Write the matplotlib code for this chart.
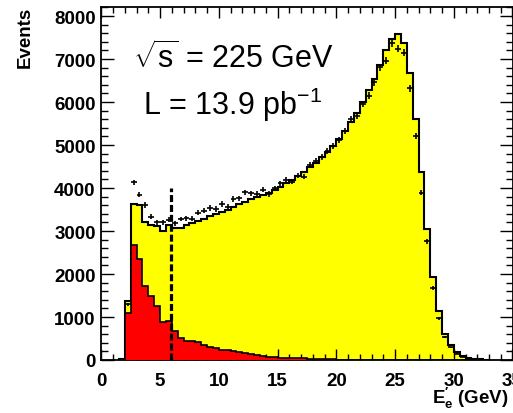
import numpy as np
import matplotlib
matplotlib.use("Agg")
import matplotlib.pyplot as plt
from matplotlib.ticker import MultipleLocator

plt.rcParams['font.family'] = ['Liberation Sans', 'DejaVu Sans']
plt.rcParams['mathtext.fontset'] = 'custom'
plt.rcParams['mathtext.rm'] = 'Liberation Sans'
plt.rcParams['mathtext.it'] = 'Liberation Sans'
plt.rcParams['mathtext.bf'] = 'Liberation Sans:bold'

# ---- data ----
bin_start = 1.5
bin_width = 0.5

mc_total = [30, 1365, 3630, 3600, 3220, 3130, 3110, 2990, 3130, 3070,
            3080, 3130, 3180, 3230, 3290, 3350, 3400, 3450, 3500, 3560,
            3620, 3680, 3750, 3790, 3840, 3880, 3950, 4030, 4110, 4190,
            4270, 4370, 4480, 4590, 4710, 4840, 4980, 5150, 5330, 5530,
            5740, 6000, 6280, 6540, 6850, 7200, 7470, 7580, 7370, 6680,
            5600, 4370, 3050, 1920, 1150, 600, 360, 180, 100, 50,
            25, 12, 5]

mc_background = [30, 1090, 2670, 2360, 1730, 1495, 1245, 877, 900, 682,
                 510, 450, 450, 410, 360, 295, 272, 240, 225, 215,
                 180, 160, 140, 120, 100, 70, 60, 55, 50, 45,
                 40, 35, 25, 20, 18, 15, 12, 10, 8, 8,
                 6, 6, 5, 5, 4, 4, 3, 3, 2, 2,
                 2, 1, 1, 1, 1, 0, 0, 0, 0, 0,
                 0, 0, 0]

data_counts = [0, 1300, 4130, 3845, 3605, 3333, 3200, 3200, 3263, 3180,
               3279, 3295, 3290, 3420, 3473, 3535, 3512, 3628, 3566, 3744,
               3760, 3900, 3876, 3860, 3961, 3860, 3992, 4110, 4190, 4147,
               4287, 4264, 4535, 4620, 4720, 4860, 4984, 5120, 5333, 5605,
               5682, 5953, 6150, 6457, 6810, 6960, 7370, 7240, 7145, 6318,
               5217, 3890, 2760, 1674, 970, 540, 295, 146, 70, 30,
               15, 6, 3]

cut_value = 5.95
cut_top = 4000

x_ticks = [0, 5, 10, 15, 20, 25, 30, 35]
y_ticks = [0, 1000, 2000, 3000, 4000, 5000, 6000, 7000, 8000]

# ---- figure ----
W, H = 513, 414
fig = plt.figure(figsize=(W / 100, H / 100), dpi=100)
ax = fig.add_axes([101.3 / W, 1 - 361 / H, 411.2 / W, 353 / H])

n = len(mc_total)
edges = bin_start + bin_width * np.arange(n + 1)
centers = 0.5 * (edges[:-1] + edges[1:])

ax.stairs(mc_total, edges, fill=True, color='#ffff00', zorder=1)
ax.stairs(mc_total, edges, color='black', lw=1.5, zorder=2)
ax.stairs(mc_background, edges, fill=True, color='#ff0000', zorder=3)
ax.stairs(mc_background, edges, color='black', lw=1.2, zorder=4)

d = np.array(data_counts, dtype=float)
m = d > 0
ax.errorbar(centers[m], d[m], xerr=bin_width / 2, yerr=np.sqrt(d[m]),
            fmt='none', ecolor='black', elinewidth=1.2, capsize=0, zorder=5)

ax.plot([cut_value, cut_value], [0, cut_top], color='black', lw=2.3,
        ls=(0, (2.2, 0.9)), zorder=6)

ax.set_xlim(0, 35)
ax.set_ylim(0, 8210)
ax.set_xticks(x_ticks)
ax.set_yticks(y_ticks)
ax.xaxis.set_minor_locator(MultipleLocator(1))
ax.yaxis.set_minor_locator(MultipleLocator(200))
ax.tick_params(which='both', direction='in', top=True, right=True,
               labelsize=13.5, width=1.0)
ax.tick_params(axis='x', which='major', length=8, pad=9)
ax.tick_params(axis='x', which='minor', length=4.5)
ax.tick_params(axis='y', which='major', length=9.5, pad=4)
ax.tick_params(axis='y', which='minor', length=5)
for lab in ax.get_xticklabels() + ax.get_yticklabels():
    lab.set_fontweight('bold')
for s in ax.spines.values():
    s.set_linewidth(1.3)

fig.text(25 / W, 1 - 7 / H, 'Events', rotation=90, ha='center', va='top',
         fontsize=13.5, fontweight='bold')
fig.text(432 / W, 1 - 404 / H, r"$\mathbf{E^{\prime}_{e}}$ (GeV)", ha='left',
         va='baseline', fontsize=13.5, fontweight='bold')

fig.text(133 / W, 1 - 68 / H, r"$\sqrt{\mathrm{s}}$ = 225 GeV", ha='left',
         va='baseline', fontsize=22)
fig.text(143 / W, 1 - 115 / H, r"L = 13.9 pb$^{\mathrm{-1}}$", ha='left',
         va='baseline', fontsize=22)

fig.savefig('out.png', dpi=100)
